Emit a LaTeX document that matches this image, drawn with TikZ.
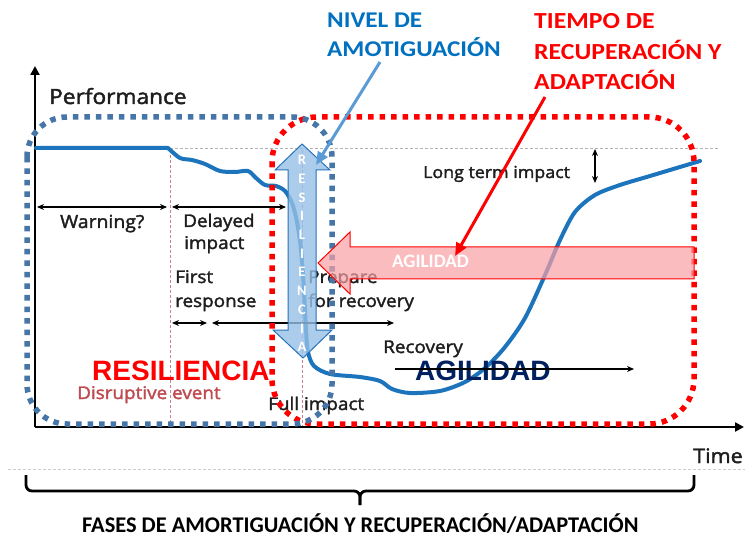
\documentclass[tikz,border=0pt]{standalone}
\usepackage{fontspec}
\setmainfont{Carlito}
\newfontfamily\chartf[FakeStretch=1.08,FakeBold=2]{Open Sans}
\newfontfamily\titlef[FakeStretch=1.12]{Carlito}
\newfontfamily\arialf{Liberation Sans}
\usetikzlibrary{arrows.meta}
\newcommand{\fsz}[1]{\fontsize{#1}{#1}\selectfont}
\definecolor{curveblue}{RGB}{28,117,188}
\definecolor{dotblue}{RGB}{70,118,168}
\definecolor{titleblue}{RGB}{0,112,192}
\definecolor{pointerblue}{RGB}{91,155,213}
\definecolor{arrowfill}{RGB}{150,192,230}
\definecolor{arrowborder}{RGB}{40,115,185}
\definecolor{pinkfill}{RGB}{250,160,165}
\definecolor{navy}{RGB}{0,32,96}
\definecolor{disrupt}{RGB}{190,75,80}
\definecolor{pinkline}{RGB}{200,130,140}
\definecolor{textgray}{RGB}{30,30,30}
\tikzset{
  lbl/.style={font=\chartf\fsz{17.5}, text=textgray, inner sep=0pt, anchor=base west},
  ttl/.style={font=\titlef\bfseries\fsz{22.5}, inner sep=0pt, anchor=base west},
  dblarrow/.style={line width=1.5pt, {Stealth[length=7pt,width=6pt]}-{Stealth[length=7pt,width=6pt]}},
  sglarrow/.style={line width=1.5pt, -{Stealth[length=7pt,width=6pt]}},
  axisline/.style={line width=2.6pt, -{Triangle[length=9pt,width=9pt]}},
  thindash/.style={line width=0.8pt, dash pattern=on 3pt off 2pt},
  dotbox/.style={line width=5.5pt, dash pattern=on 5.5pt off 6pt},
  pointer/.style={line width=3pt, -{Triangle[length=13pt,width=11pt]}},
  bigword/.style={font=\arialf\bfseries\fsz{28}, inner sep=0pt, anchor=base west},
}
\begin{document}
\begin{tikzpicture}[x=1pt,y=-1pt]
\useasboundingbox (0,0) rectangle (752,537);
\fill[white] (0,0) rectangle (752,537);

% guide lines
\draw[gray!60, thindash] (170,148) -- (718,148);
\draw[gray!40, thindash] (8,469) -- (745,469);
\draw[pinkline, thindash] (170,150) -- (170,427);
\draw[pinkline, thindash] (302,150) -- (302,427);

% axes
\coordinate (origin) at (35,427);
\coordinate (ytop) at (35,66);
\coordinate (xend) at (744,427);
\draw[axisline] (origin) -- (ytop);
\draw[axisline] (origin) -- (xend);

% performance curve
\draw[curveblue, line width=4pt, line join=round, line cap=round]
  (36,148) -- (168,148)
  plot[smooth, tension=0.5] coordinates {(168,148) (180,158) (192,160) (205,164) (220,171) (235,172) (248,171) (256,178) (265,185) (276,186) (285,191) (292,203) (297,222) (301,250) (304,290) (306,330) (308,352) (314,366) (330,374) (360,377) (380,381) (392,389) (410,393) (440,391) (465,382) (485,368) (505,347) (525,318) (545,275) (560,240) (575,212) (595,195) (620,185) (650,176) (700,161)};

% texts of the chart
\node[lbl, font=\chartf\fsz{21}] (perf) at (49,104) {Performance};
\node[lbl, font=\chartf\fsz{20}] (time) at (693,463) {Time};
\node[lbl, font=\chartf\fsz{18}] (warn) at (60,228) {Warning?};
\node[lbl] (del1) at (183,227) {Delayed};
\node[lbl] (del2) at (184,249) {impact};
\node[lbl] (fr1) at (175,283) {First};
\node[lbl] (fr2) at (175,307) {response};
\node[lbl] (pr1) at (308,283) {Prepare};
\node[lbl] (pr2) at (308,307) {for recovery};
\node[lbl] (rec) at (383,353) {Recovery};
\node[lbl, text=disrupt] (disr) at (77,399) {Disruptive event};
\node[lbl] (full) at (268,410) {Full impact};
\node[lbl, font=\chartf\fsz{16.5}] (ltm) at (423,178) {Long term impact};

\node[bigword, text=red] (resil) at (92,380) {RESILIENCIA};
\node[bigword, text=navy] (agil) at (415,380) {AGILIDAD};

% black arrows
\coordinate (w1) at (37,207); \coordinate (w2) at (167,207);
\coordinate (d1) at (172,207); \coordinate (d2) at (286,207);
\coordinate (f1) at (172,323); \coordinate (f2) at (207,323);
\coordinate (p1) at (212,323); \coordinate (p2) at (394,323);
\coordinate (r1) at (395,369); \coordinate (r2) at (634,369);
\coordinate (l1) at (595,149); \coordinate (l2) at (595,183);
\draw[dblarrow] (w1) -- (w2);
\draw[dblarrow] (d1) -- (d2);
\draw[dblarrow] (f1) -- (f2);
\draw[dblarrow] (p1) -- (p2);
\draw[sglarrow] (r1) -- (r2);
\draw[dblarrow] (l1) -- (l2);

% dotted phase boxes
\draw[red, dotbox, rounded corners=45pt] (272,117) rectangle (694,424);
\draw[dotblue, dotbox, rounded corners=40pt] (27,117) rectangle (332,424);

% big vertical double arrow
\draw[arrowborder, fill=arrowfill, fill opacity=0.8, line width=1pt, line join=miter]
  (302,144) -- (330,170) -- (316,170) -- (316,330) -- (332,330) -- (303,358)
  -- (273,330) -- (288,330) -- (288,170) -- (275,170) -- cycle;
\coordinate (bigtip) at (316,165);
\foreach \l [count=\i] in {R,E,S,I,L,I,E,N,C,I,A}
  \node[text=white, font=\bfseries\fsz{14.5}, inner sep=0pt] (res\i) at (302,{160+(\i-1)*18.7}) {\l};

% pink horizontal arrow
\draw[red, fill=pinkfill, fill opacity=0.7, line width=1pt, line join=miter]
  (318,263) -- (350,232) -- (350,247) -- (694,247) -- (694,279) -- (350,279) -- (350,294) -- cycle;
\node[ttl, text=white, font=\bfseries\fsz{19}] (agilw) at (392,268) {AGILIDAD};

% titles
\node[ttl, text=titleblue] (niv1) at (327,28) {NIVEL DE};
\node[ttl, text=titleblue] (niv2) at (327,57) {AMOTIGUACIÓN};
\node[ttl, text=red, font=\titlef\bfseries\fsz{23}] (tie1) at (534,29) {TIEMPO DE};
\node[ttl, text=red, font=\titlef\bfseries\fsz{23}] (tie2) at (534,60) {RECUPERACIÓN Y};
\node[ttl, text=red, font=\titlef\bfseries\fsz{23}] (tie3) at (534,90) {ADAPTACIÓN};

% pointers
\coordinate (nivtail) at (380,62);
\coordinate (tietail) at (545,97);
\coordinate (agiltip) at (455,256);
\draw[pointerblue, pointer] (nivtail) -- (bigtip);
\draw[red, pointer] (tietail) -- (agiltip);

% bottom brace
\coordinate (bl) at (26,475);
\coordinate (br) at (694,475);
\coordinate (bt) at (360,505);
\draw[line width=2.8pt, rounded corners=6pt] (bl) -- (26,491) -- (360,491) -- (bt);
\draw[line width=2.8pt, rounded corners=6pt] (br) -- (694,491) -- (360,491) -- (bt);
\node[inner sep=0pt, anchor=base west, font=\bfseries\fsz{22.4}, text=black] (fases) at (82,532) {FASES DE AMORTIGUACIÓN Y RECUPERACIÓN/ADAPTACIÓN};
\end{tikzpicture}
\end{document}
